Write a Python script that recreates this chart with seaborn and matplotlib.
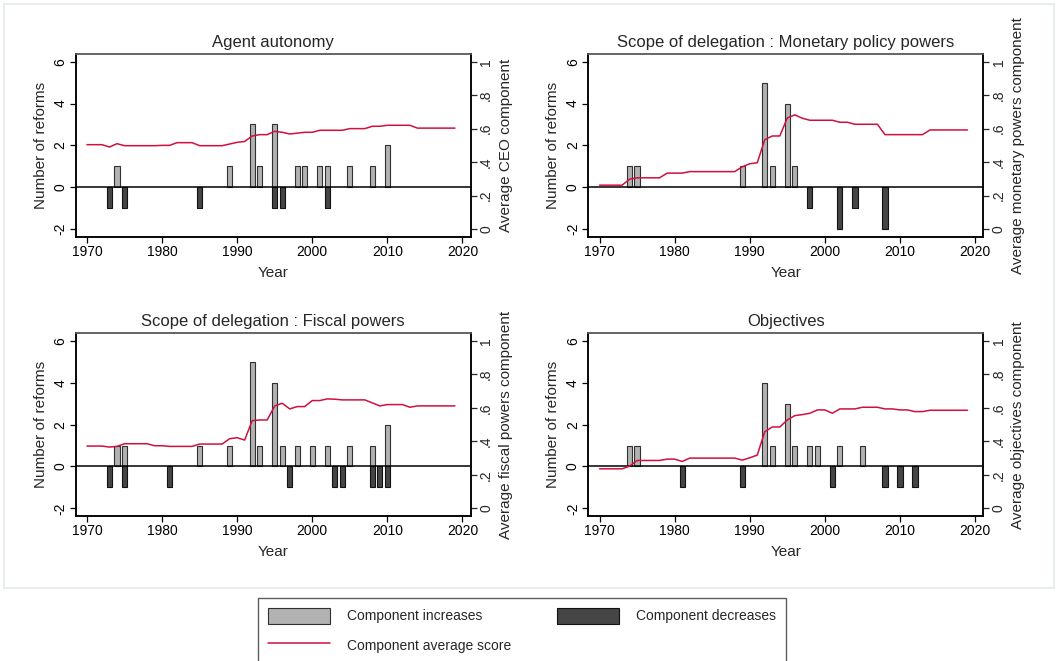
import numpy as np
import pandas as pd
import matplotlib
matplotlib.use('Agg')
import matplotlib.pyplot as plt
import matplotlib.patches as mpatches
from matplotlib.lines import Line2D
import seaborn as sns

years = list(range(1970, 2020))

# Agent autonomy
ceo_inc_years = [1974, 1989, 1992, 1993, 1995, 1998, 1999, 2001, 2002, 2005, 2008, 2010]
ceo_inc = [1, 1, 3, 1, 3, 1, 1, 1, 1, 1, 1, 2]
ceo_dec_years = [1973, 1975, 1985, 1995, 1996, 2002]
ceo_dec = [-1, -1, -1, -1, -1, -1]
ceo_avg = [0.504, 0.504, 0.504, 0.490, 0.510, 0.498, 0.498, 0.498, 0.498, 0.498,
           0.500, 0.500, 0.516, 0.516, 0.516, 0.498, 0.498, 0.498, 0.498, 0.508,
           0.518, 0.523, 0.556, 0.564, 0.564, 0.584, 0.578, 0.568, 0.573, 0.578,
           0.578, 0.590, 0.590, 0.590, 0.590, 0.600, 0.600, 0.600, 0.614, 0.614,
           0.620, 0.620, 0.620, 0.620, 0.603, 0.603, 0.603, 0.603, 0.603, 0.603]

# Monetary policy powers
mon_inc_years = [1974, 1975, 1989, 1992, 1993, 1995, 1996]
mon_inc = [1, 1, 1, 5, 1, 4, 1]
mon_dec_years = [1998, 2002, 2004, 2008]
mon_dec = [-1, -2, -1, -2]
mon_avg = [0.262, 0.262, 0.262, 0.262, 0.298, 0.306, 0.306, 0.306, 0.306, 0.334,
           0.334, 0.334, 0.343, 0.343, 0.343, 0.343, 0.343, 0.343, 0.343, 0.372,
           0.390, 0.396, 0.534, 0.556, 0.556, 0.664, 0.682, 0.662, 0.650, 0.650,
           0.650, 0.650, 0.638, 0.638, 0.626, 0.626, 0.626, 0.626, 0.564, 0.564,
           0.564, 0.564, 0.564, 0.564, 0.592, 0.592, 0.592, 0.592, 0.592, 0.592]

# Fiscal powers
fis_inc_years = [1974, 1975, 1985, 1989, 1992, 1993, 1995, 1996, 1998, 2000, 2002, 2005, 2008, 2010]
fis_inc = [1, 1, 1, 1, 5, 1, 4, 1, 1, 1, 1, 1, 1, 2]
fis_dec_years = [1973, 1975, 1981, 1997, 2003, 2004, 2008, 2009, 2010]
fis_dec = [-1, -1, -1, -1, -1, -1, -1, -1, -1]
fis_avg = [0.372, 0.372, 0.372, 0.366, 0.370, 0.386, 0.386, 0.386, 0.386, 0.374,
           0.374, 0.370, 0.370, 0.370, 0.370, 0.384, 0.384, 0.384, 0.384, 0.416,
           0.422, 0.408, 0.524, 0.528, 0.528, 0.612, 0.628, 0.594, 0.608, 0.608,
           0.644, 0.644, 0.654, 0.652, 0.648, 0.648, 0.648, 0.648, 0.630, 0.612,
           0.620, 0.620, 0.620, 0.604, 0.612, 0.612, 0.612, 0.612, 0.612, 0.612]

# Objectives
obj_inc_years = [1974, 1975, 1992, 1993, 1995, 1996, 1998, 1999, 2002, 2005]
obj_inc = [1, 1, 4, 1, 3, 1, 1, 1, 1, 1]
obj_dec_years = [1981, 1989, 2001, 2008, 2010, 2012]
obj_dec = [-1, -1, -1, -1, -1, -1]
obj_avg = [0.236, 0.236, 0.236, 0.236, 0.252, 0.286, 0.286, 0.286, 0.286, 0.294,
           0.294, 0.280, 0.300, 0.300, 0.300, 0.300, 0.300, 0.300, 0.300, 0.288,
           0.302, 0.318, 0.458, 0.486, 0.486, 0.528, 0.554, 0.560, 0.568, 0.588,
           0.588, 0.568, 0.594, 0.594, 0.594, 0.604, 0.604, 0.604, 0.594, 0.594,
           0.588, 0.588, 0.578, 0.578, 0.586, 0.586, 0.586, 0.586, 0.586, 0.586]

titles = ['Agent autonomy', 'Scope of delegation : Monetary policy powers',
          'Scope of delegation : Fiscal powers', 'Objectives']
right_labels = ['Average CEO component', 'Average monetary powers component',
                'Average fiscal powers component', 'Average objectives component']

panels = [
    (ceo_inc_years, ceo_inc, ceo_dec_years, ceo_dec, ceo_avg),
    (mon_inc_years, mon_inc, mon_dec_years, mon_dec, mon_avg),
    (fis_inc_years, fis_inc, fis_dec_years, fis_dec, fis_avg),
    (obj_inc_years, obj_inc, obj_dec_years, obj_dec, obj_avg),
]

sns.set_theme(style='ticks')
plt.rcParams['font.family'] = ['Liberation Sans', 'DejaVu Sans']

inc_color = '#b2b2b2'
dec_color = '#454545'
line_color = '#d0103f'

fig = plt.figure(figsize=(10.56, 6.61), dpi=100)
W, H = 1056, 661

# light outer frame around the graph region
fig.patches.append(mpatches.Rectangle((4 / W, 1 - 588 / H), 1050 / W, 584 / H,
                                      transform=fig.transFigure, fill=False,
                                      edgecolor='#e3eaec', linewidth=1.2))

boxes = [(75.7, 54), (588.3, 54), (75.7, 333.3), (588.3, 333.3)]
aw, ah = 395, 182.7

for i, (inc_y, inc_v, dec_y, dec_v, avg) in enumerate(panels):
    x0, y0 = boxes[i]
    ax = fig.add_axes([x0 / W, 1 - (y0 + ah) / H, aw / W, ah / H])
    ax.bar(inc_y, inc_v, width=0.7, color=inc_color, edgecolor='#303030', linewidth=0.8, zorder=2)
    ax.bar(dec_y, dec_v, width=0.7, color=dec_color, edgecolor='#111111', linewidth=0.8, zorder=2)
    ax.axhline(0, color='black', linewidth=1.1, zorder=3)
    ax.set_ylim(-2.37, 6.37)
    ax.set_xlim(1968.5, 2021.1)
    ax.set_xticks([1970, 1980, 1990, 2000, 2010, 2020])
    ax.set_yticks([-2, 0, 2, 4, 6])
    ax.set_yticklabels(['-2', '0', '2', '4', '6'], rotation=90, va='center')
    ax.set_xlabel('Year', fontsize=11, labelpad=5)
    ax.set_ylabel('Number of reforms', fontsize=11, labelpad=4)
    ax.set_title(titles[i], fontsize=12, pad=5)
    ax.tick_params(axis='both', labelsize=10, length=4, width=0.9, colors='black', pad=2)

    ax2 = ax.twinx()
    df = pd.DataFrame({'year': years, 'avg': avg})
    sns.lineplot(data=df, x='year', y='avg', ax=ax2, color=line_color, linewidth=1.1, zorder=4)
    ax2.set_ylim(-0.046, 1.046)
    ax2.set_yticks([0, 0.2, 0.4, 0.6, 0.8, 1.0])
    ax2.set_yticklabels(['0', '.2', '.4', '.6', '.8', '1'], rotation=90, va='center')
    ax2.set_ylabel(right_labels[i], fontsize=11, labelpad=4)
    ax2.tick_params(axis='y', labelsize=10, length=4, width=0.9, pad=2)
    ax2.set_xlabel('')

    for a in (ax, ax2):
        for s in ['left', 'bottom', 'right']:
            a.spines[s].set_color('black')
            a.spines[s].set_linewidth(1.1)
        a.spines['top'].set_color('#606060')
        a.spines['top'].set_linewidth(1.1)
        a.spines['top'].set_visible(True)
        a.spines['right'].set_visible(True)

handles = [
    mpatches.Patch(facecolor=inc_color, edgecolor='#303030', linewidth=0.8, label='Component increases'),
    Line2D([], [], color=line_color, linewidth=1.1, label='Component average score'),
    mpatches.Patch(facecolor=dec_color, edgecolor='#111111', linewidth=0.8, label='Component decreases'),
]
leg = fig.legend(handles=handles, loc='upper left', bbox_to_anchor=(258 / W, 1 - 598 / H),
                 ncol=2, fontsize=10, frameon=True, fancybox=False, edgecolor='#333333',
                 handlelength=4.5, handleheight=1.4, handletextpad=1.2, columnspacing=3.3,
                 borderpad=0.7, labelspacing=0.95, borderaxespad=0)
leg.get_frame().set_linewidth(1.0)

fig.savefig('out.png', dpi=100)
